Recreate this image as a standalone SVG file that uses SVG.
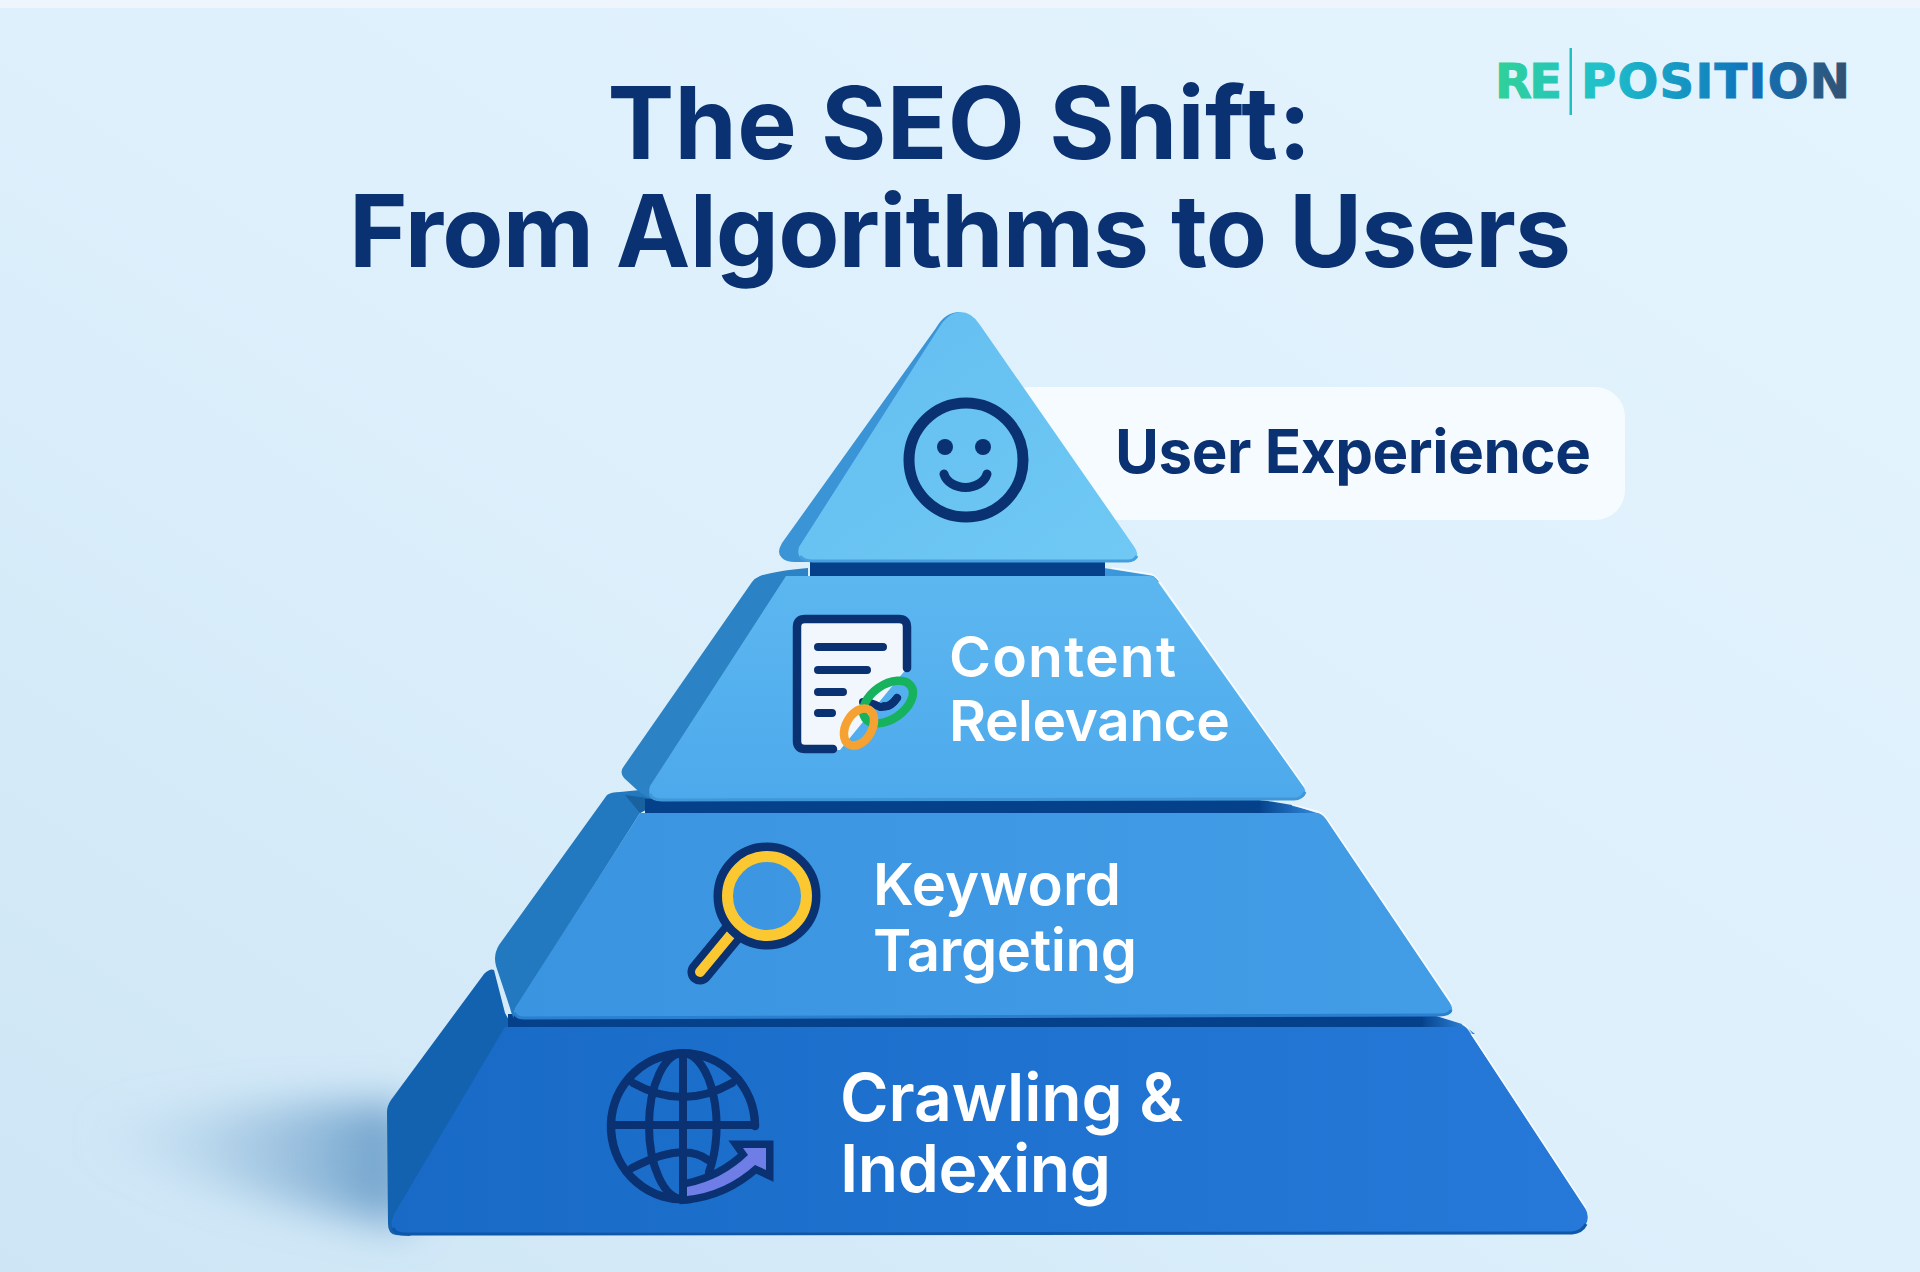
<svg xmlns="http://www.w3.org/2000/svg" width="1920" height="1272" viewBox="0 0 1920 1272">
<defs>
<linearGradient id="bg" x1="1" y1="0" x2="0" y2="1"><stop offset="0" stop-color="#e4f4fe"/><stop offset="0.55" stop-color="#dceffb"/><stop offset="1" stop-color="#cde5f5"/></linearGradient>
<linearGradient id="f4" x1="0" y1="0" x2="1" y2="1"><stop offset="0" stop-color="#62bdf0"/><stop offset="1" stop-color="#70c9f4"/></linearGradient>
<linearGradient id="f3" x1="0" y1="0" x2="0" y2="1"><stop offset="0" stop-color="#5cb7f0"/><stop offset="1" stop-color="#4ea9ec"/></linearGradient>
<linearGradient id="f2" x1="0" y1="0" x2="1" y2="0"><stop offset="0" stop-color="#3a94e0"/><stop offset="1" stop-color="#429ce6"/></linearGradient>
<linearGradient id="f1" x1="0" y1="0" x2="1" y2="0"><stop offset="0" stop-color="#186ac6"/><stop offset="1" stop-color="#2679d8"/></linearGradient>
<linearGradient id="logo" gradientUnits="userSpaceOnUse" x1="1496" y1="0" x2="1850" y2="0"><stop offset="0" stop-color="#30d198"/><stop offset="0.3" stop-color="#1fc0cc"/><stop offset="0.72" stop-color="#0e72bb"/><stop offset="1" stop-color="#35506f"/></linearGradient>
<linearGradient id="sh" gradientUnits="userSpaceOnUse" x1="392" y1="0" x2="90" y2="0"><stop offset="0" stop-color="#6b9ec9" stop-opacity=".95"/><stop offset=".45" stop-color="#86b2d6" stop-opacity=".55"/><stop offset="1" stop-color="#a9cde6" stop-opacity="0"/></linearGradient>
<linearGradient id="lip3" gradientUnits="userSpaceOnUse" x1="1258" y1="0" x2="1312" y2="0"><stop offset="0" stop-color="#05408a"/><stop offset="1" stop-color="#2d84d6"/></linearGradient>
<linearGradient id="lip1" gradientUnits="userSpaceOnUse" x1="1420" y1="0" x2="1462" y2="0"><stop offset="0" stop-color="#05408a"/><stop offset="1" stop-color="#2a7dd4"/></linearGradient>
<filter id="blur" x="-30%" y="-60%" width="160%" height="220%"><feGaussianBlur stdDeviation="20"/></filter>
</defs>
<style>
text{font-family:Inter,"Liberation Sans",sans-serif}
.title{font-size:100px;font-weight:700;fill:#0a3172;text-anchor:middle}
.dark{fill:#0a3172;font-weight:700;font-size:60px}
.lbl{fill:#fff;font-weight:600}
.brand{font-family:"DejaVu Sans","Liberation Sans",sans-serif;font-size:48px;font-weight:700;fill:url(#logo);stroke:url(#logo);stroke-width:1}
.ln{fill:none;stroke:#0a3172;stroke-linecap:round;stroke-linejoin:round}
.hi{fill:none;stroke:#fff;stroke-width:1.500;opacity:.7}
.band{fill:#05408a}
</style>
<rect width="1920" height="1272" fill="url(#bg)"/>
<rect width="1920" height="8" fill="#eef5fc"/>
<path d="M410 1105 L410 1226 Q300 1212 190 1178 L60 1130 Q260 1095 410 1105Z" fill="url(#sh)" filter="url(#blur)"/>
<g id="title"><text class="title" x="959.500" y="159" textLength="704">The SEO Shift:</text><text class="title" x="960" y="267" textLength="1222">From Algorithms to Users</text></g>
<g id="logo-mark"><text class="brand" x="1495" y="98" textLength="67">RE</text><rect x="1569.500" y="48" width="2.500" height="67" fill="#1fc0c4"/><text class="brand" x="1581" y="98" textLength="269">POSITION</text></g>
<g id="label-user-experience"><rect x="1000" y="387" width="625" height="133" rx="30" fill="#f6fbff"/><text class="dark" x="1115" y="473" textLength="476">User Experience</text></g>
<g id="tier-crawling">
<path d="M484 974Q490 968 494 970L505 1013L520 1040L410 1236L396 1235Q388 1234 388 1224L387 1112Q387 1106 391 1100Z" fill="#1362b0"/>
<path d="M1420 1014L1433 1015L1462 1024L1475 1034H1420Z" fill="url(#lip1)"/>
<rect class="band" x="508" y="1014" width="915" height="14"/>
<path d="M505 1027L1462 1027Q1466 1027 1470 1033L1585 1208Q1590 1216 1586 1224Q1582 1232 1572 1232L402 1233Q390 1232 392 1220Q393 1216 396 1211Z" fill="url(#f1)"/>
<path d="M393 1228Q396 1234 404 1234L1572 1233Q1582 1232 1586 1224" fill="none" stroke="#0f57aa" stroke-width="3"/>
<path class="hi" d="M1462 1024Q1467 1026 1471 1033L1586 1208"/>
<g id="icon-globe">
<path d="M755 1126A72 73 0 1 0 690 1199" class="ln" stroke-width="8.500"/>
<path d="M683 1053A34 73 0 0 0 683 1199M683 1053A34 73 0 0 1 709 1172M683 1053V1199M611 1125H755M633 1083Q683 1111 732 1083M632 1168Q683 1141 708 1160" class="ln" stroke-width="8"/>
<path d="M687 1187Q722 1180 748 1155L743 1148H766V1170L755 1165Q725 1192 687 1196Z" fill="#6f7de6" stroke="#0a3172" stroke-width="15" stroke-linejoin="miter" paint-order="stroke"/>
</g>
<text class="lbl" x="840" y="1121" font-size="66" textLength="343">Crawling &amp;</text><text class="lbl" x="840" y="1192" font-size="66" textLength="271">Indexing</text>
</g>
<g id="tier-keyword">
<path d="M607 795Q611 792 620 792L640 790L664 801L640 813L514 1012V1018Q512 1016 510 1008L496 966Q493 955 499 945Z" fill="#2279c0"/>
<path d="M1258 800L1268 801L1292 805L1320 814H1258Z" fill="url(#lip3)"/>
<path d="M625 795L662 800L640 813Z" fill="#17629f"/>
<rect class="band" x="645" y="799" width="615" height="15"/>
<path d="M640 813L1316 813Q1322 813 1326 819L1450 1003Q1456 1014 1446 1015L524 1018Q512 1018 515 1008Z" fill="url(#f2)"/>
<path d="M1451 1010Q1449 1015 1440 1015L524 1018Q516 1018 514 1012" fill="none" stroke="#2a7fcf" stroke-width="3"/>
<path class="hi" d="M1292 805L1316 811Q1322 812 1327 819L1452 1004"/>
<g id="icon-magnifier"><path d="M733 932L700 972" stroke="#0a3172" stroke-width="25" stroke-linecap="round"/><path d="M733 932L700 972" stroke="#fbc832" stroke-width="10" stroke-linecap="round"/><circle cx="767" cy="896" r="47" fill="none" stroke="#0a3172" stroke-width="13"/><circle cx="767" cy="896" r="39.500" fill="none" stroke="#fbc832" stroke-width="11"/></g>
<text class="lbl" x="873" y="905" font-size="58" textLength="248">Keyword</text><text class="lbl" x="873" y="971" font-size="58" textLength="264">Targeting</text>
</g>
<g id="tier-content">
<path d="M760 576Q775 571 808 568V577H786L660 800Q646 799 636 789L624 778Q619 772 624 766L752 582Q755 578 760 576Z" fill="#2b82c4"/>
<path d="M1104 568L1154 576L1160 582H1104Z" fill="#3a97dc"/>
<rect class="band" x="810" y="561" width="295" height="15"/>
<path d="M786 576L1150 576Q1155 576 1158 582L1303 786Q1310 796 1298 799L662 800Q646 800 650 786Z" fill="url(#f3)"/>
<path d="M1305 792Q1302 799 1294 799L662 800Q652 800 650 794" fill="none" stroke="#3f97d8" stroke-width="3"/>
<path class="hi" d="M1112 568L1150 574Q1155 575 1159 581L1304 786"/>
<g id="icon-document">
<path d="M801 619H907V668L840 750H801Z" fill="#f1f7fc"/>
<path d="M833 749H805Q797 749 797 741V627Q797 619 805 619H899Q907 619 907 627V668" class="ln" stroke-width="8.500"/>
<path d="M818 647H883M818 670H867M818 692H843M818 713H832" class="ln" stroke-width="8"/>
<path d="M863 702Q870 702 880 707Q890 708 897 698" class="ln" stroke-width="8"/>
<ellipse cx="888" cy="702" rx="28" ry="17" transform="rotate(-35 888 702)" fill="none" stroke="#16b25d" stroke-width="8.500"/>
<path d="M884 706Q890 708 897 698" class="ln" stroke-width="8"/>
<ellipse cx="859" cy="727" rx="13" ry="20" transform="rotate(30 859 727)" fill="none" stroke="#f6a232" stroke-width="8.500"/>
</g>
<text class="lbl" x="949" y="677" font-size="57" textLength="227">Content</text><text class="lbl" x="949" y="741" font-size="57" textLength="281">Relevance</text>
</g>
<g id="tier-user">
<path d="M960 312Q945 312 936 328L782 543Q776 553 782 558Q786 562 795 562L815 562Z" fill="#3a94d6"/>
<path d="M942 323Q951 312 960 312Q972 312 980 325L1133 545Q1141 556 1134 561L813 561Q795 561 799 547Z" fill="url(#f4)"/>
<path d="M1137 556Q1134 561 1128 561L813 561Q803 561 800 556" fill="none" stroke="#469fdd" stroke-width="3"/>
<g id="icon-smiley"><circle cx="966" cy="460" r="57" class="ln" stroke-width="11"/><circle cx="945" cy="447" r="8" fill="#0a3172"/><circle cx="983" cy="447" r="8" fill="#0a3172"/><path d="M944 474A22 17 0 0 0 987 474" class="ln" stroke-width="9"/></g>
</g>
</svg>
